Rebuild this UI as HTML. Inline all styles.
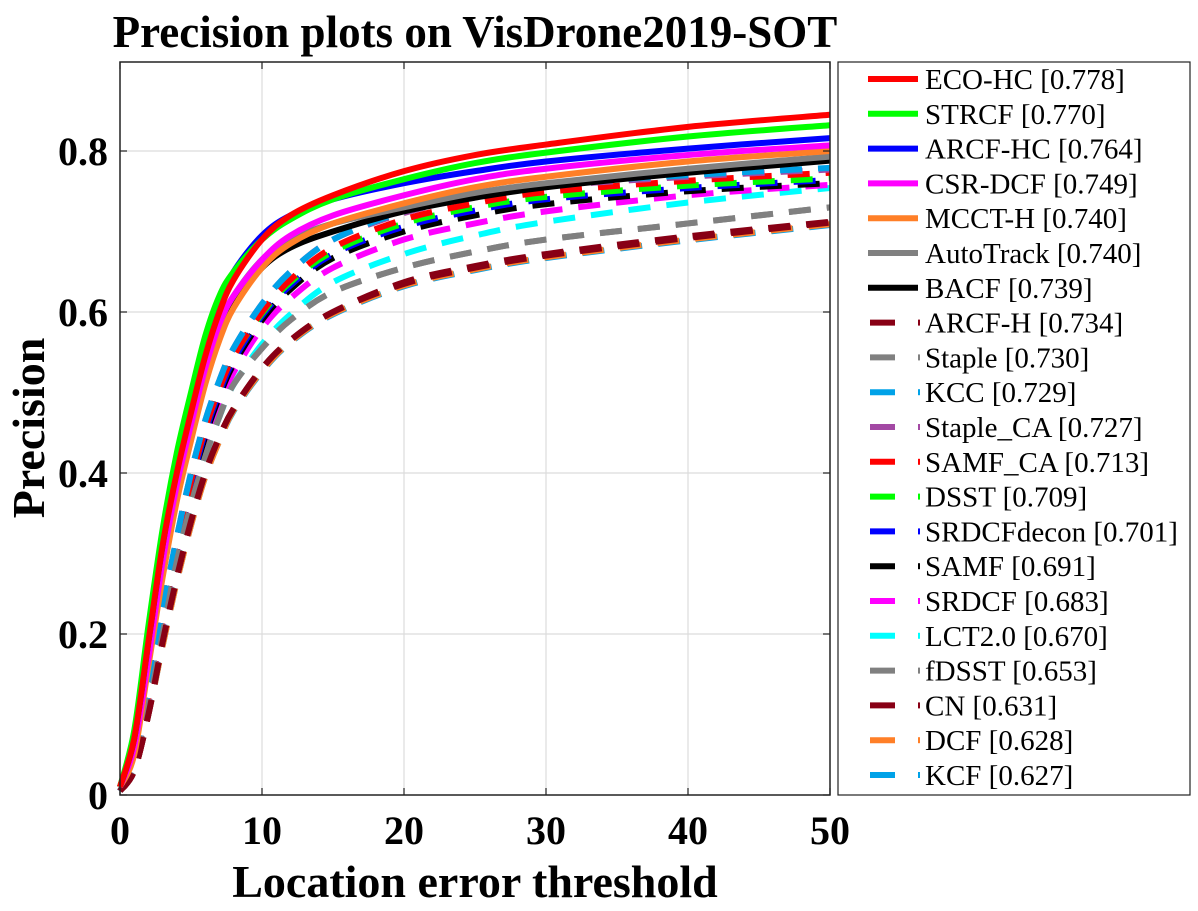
<!DOCTYPE html>
<html><head><meta charset="utf-8"><style>
body{margin:0;background:#fff;}
svg text{font-family:"Liberation Serif",serif;}
</style></head><body>
<svg id="chart" width="1198" height="906" xmlns="http://www.w3.org/2000/svg">
<rect width="1198" height="906" fill="#fff"/>
<text x="475" y="47" text-anchor="middle" font-size="45" font-weight="bold">Precision plots on VisDrone2019-SOT</text>
<g id="grid"></g>
<g id="series"></g>
<rect x="120" y="62" width="710" height="733" fill="none" stroke="#222" stroke-width="1.5"/>
<g id="ticks"></g>
<text x="475" y="897" text-anchor="middle" font-size="46" font-weight="bold">Location error threshold</text>
<text transform="translate(44,428) rotate(-90)" text-anchor="middle" font-size="46" font-weight="bold">Precision</text>
<rect x="838" y="62" width="352" height="733" fill="#fff" stroke="#222" stroke-width="1.2"/>
<g id="legend"></g>
</svg>
<script>
const thresholds=[0,1,2,3,4,5,6,7,8,10,12,15,20,25,30,40,50];
const xTicks=[0,10,20,30,40,50];
const yTicks=[0,0.2,0.4,0.6,0.8];
const yTickLabels=["0","0.2","0.4","0.6","0.8"];
const names=["ECO-HC [0.778]","STRCF [0.770]","ARCF-HC [0.764]","CSR-DCF [0.749]","MCCT-H [0.740]","AutoTrack [0.740]","BACF [0.739]","ARCF-H [0.734]","Staple [0.730]","KCC [0.729]","Staple_CA [0.727]","SAMF_CA [0.713]","DSST [0.709]","SRDCFdecon [0.701]","SAMF [0.691]","SRDCF [0.683]","LCT2.0 [0.670]","fDSST [0.653]","CN [0.631]","DCF [0.628]","KCF [0.627]"];
const colors=["#ff0000","#00ff00","#0000ff","#ff00ff","#ff7f27","#808080","#000000","#880015","#808080","#00a2e8","#a349a4","#ff0000","#00ff00","#0000ff","#000000","#ff00ff","#00ffff","#808080","#880015","#ff7f27","#00a2e8"];
const dashed=[false,false,false,false,false,false,false,true,true,true,true,true,true,true,true,true,true,true,true,true,true];
const s0=[0.01,0.07,0.19,0.31,0.40,0.475,0.545,0.60,0.64,0.69,0.72,0.745,0.775,0.795,0.808,0.83,0.845];
const s1=[0.01,0.08,0.21,0.33,0.425,0.50,0.57,0.62,0.65,0.69,0.715,0.74,0.765,0.785,0.798,0.818,0.832];
const s2=[0.01,0.07,0.19,0.31,0.405,0.48,0.55,0.61,0.65,0.695,0.72,0.74,0.76,0.775,0.787,0.803,0.816];
const s3=[0.01,0.06,0.17,0.29,0.385,0.46,0.53,0.585,0.62,0.665,0.695,0.72,0.745,0.765,0.778,0.795,0.807];
const s4=[0.01,0.05,0.16,0.27,0.365,0.44,0.51,0.565,0.605,0.655,0.685,0.71,0.735,0.755,0.768,0.787,0.80];
const s5=[0.01,0.06,0.17,0.29,0.385,0.46,0.53,0.585,0.62,0.665,0.69,0.71,0.73,0.748,0.76,0.778,0.793];
const s6=[0.01,0.06,0.17,0.29,0.385,0.46,0.525,0.575,0.61,0.655,0.68,0.70,0.725,0.742,0.755,0.773,0.788];
const s7=[0.005,0.03,0.10,0.19,0.27,0.34,0.40,0.445,0.48,0.53,0.565,0.60,0.637,0.657,0.672,0.694,0.712];
const s8=[0.005,0.035,0.11,0.20,0.29,0.36,0.42,0.47,0.51,0.555,0.59,0.625,0.655,0.675,0.69,0.71,0.73];
const s9=[0.005,0.04,0.13,0.23,0.32,0.40,0.465,0.515,0.555,0.61,0.65,0.69,0.725,0.745,0.758,0.77,0.779];
const s10=[0.005,0.04,0.13,0.23,0.32,0.40,0.465,0.515,0.555,0.61,0.65,0.69,0.723,0.743,0.756,0.768,0.777];
const s11=[0.005,0.04,0.12,0.22,0.31,0.39,0.455,0.505,0.545,0.60,0.64,0.68,0.715,0.735,0.749,0.763,0.773];
const s12=[0.005,0.04,0.12,0.22,0.31,0.39,0.455,0.505,0.545,0.598,0.637,0.675,0.71,0.73,0.743,0.757,0.766];
const s13=[0.005,0.04,0.12,0.22,0.31,0.385,0.45,0.50,0.54,0.595,0.633,0.672,0.706,0.726,0.74,0.754,0.764];
const s14=[0.005,0.04,0.12,0.215,0.305,0.38,0.445,0.495,0.535,0.59,0.628,0.667,0.70,0.72,0.734,0.75,0.76];
const s15=[0.005,0.04,0.115,0.21,0.30,0.375,0.435,0.485,0.525,0.58,0.617,0.655,0.69,0.71,0.725,0.745,0.758];
const s16=[0.005,0.035,0.11,0.20,0.29,0.36,0.42,0.47,0.51,0.56,0.597,0.637,0.672,0.695,0.712,0.736,0.754];
const s17=[0.005,0.035,0.11,0.20,0.29,0.36,0.42,0.47,0.51,0.555,0.59,0.625,0.655,0.675,0.69,0.71,0.73];
const s18=[0.005,0.03,0.10,0.19,0.27,0.34,0.40,0.445,0.48,0.53,0.565,0.60,0.635,0.655,0.67,0.692,0.711];
const s19=[0.005,0.03,0.10,0.185,0.265,0.335,0.395,0.44,0.478,0.527,0.563,0.598,0.633,0.653,0.668,0.69,0.709];
const s20=[0.005,0.03,0.10,0.185,0.265,0.335,0.395,0.44,0.477,0.526,0.562,0.597,0.632,0.652,0.667,0.689,0.708];
const seriesValues=[s0,s1,s2,s3,s4,s5,s6,s7,s8,s9,s10,s11,s12,s13,s14,s15,s16,s17,s18,s19,s20];

const NS="http://www.w3.org/2000/svg";
const X0=120,X1=830,YB=795,YT=62,YMAX=(795-62)/805;
function xs(v){return X0+(v/50)*(X1-X0);}
function ys(v){return YB-(v/YMAX)*(YB-YT);}
function mk(tag,attrs,parent){const e=document.createElementNS(NS,tag);for(const k in attrs)e.setAttribute(k,attrs[k]);parent.appendChild(e);return e;}
const grid=document.getElementById('grid'),ticks=document.getElementById('ticks');
xTicks.forEach((t,i)=>{
  if(t>0&&t<50){const g=mk('line',{x1:xs(t),x2:xs(t),y1:YT,y2:YB,stroke:'#dcdcdc','stroke-width':1.2},grid);
  
  }
  const tl=mk('line',{x1:xs(t),x2:xs(t),y1:YB,y2:YB-7,stroke:'#222','stroke-width':1.2},ticks);
  
  
  const tt=mk('line',{x1:xs(t),x2:xs(t),y1:YT,y2:YT+7,stroke:'#222','stroke-width':1.2},ticks);
  
  
  const tx=mk('text',{x:xs(t),y:844,'text-anchor':'middle','font-size':40,'font-weight':'bold'},ticks);
  tx.textContent=String(t);
  
  
});
yTicks.forEach((t,i)=>{
  if(t>0){const g=mk('line',{x1:X0,x2:X1,y1:ys(t),y2:ys(t),stroke:'#dcdcdc','stroke-width':1.2},grid);
  
  }
  const tl=mk('line',{x1:X0,x2:X0+7,y1:ys(t),y2:ys(t),stroke:'#222','stroke-width':1.2},ticks);
  
  
  const tr=mk('line',{x1:X1,x2:X1-7,y1:ys(t),y2:ys(t),stroke:'#222','stroke-width':1.2},ticks);
  
  
  const tx=mk('text',{x:108,y:ys(t)+14,'text-anchor':'end','font-size':40,'font-weight':'bold'},ticks);
  tx.textContent=yTickLabels[i];
  
  
});
function pathFor(vals){
  const p=thresholds.map((t,i)=>[xs(t),ys(vals[i])]);
  let d='M'+p[0][0]+','+p[0][1];
  for(let i=0;i<p.length-1;i++){
    const a=p[Math.max(0,i-1)],b=p[i],c=p[i+1],e=p[Math.min(p.length-1,i+2)];
    const c1=[b[0]+(c[0]-a[0])/6,b[1]+(c[1]-a[1])/6],c2=[c[0]-(e[0]-b[0])/6,c[1]-(e[1]-b[1])/6];
    d+=' C'+c1[0].toFixed(2)+','+c1[1].toFixed(2)+' '+c2[0].toFixed(2)+','+c2[1].toFixed(2)+' '+c[0].toFixed(2)+','+c[1].toFixed(2);
  }
  return d;
}
const sg=document.getElementById('series');
for(let k=seriesValues.length-1;k>=0;k--){
  const a={d:pathFor(seriesValues[k]),fill:'none',stroke:colors[k],'stroke-width':6,'stroke-linejoin':'round'};
  if(dashed[k])a['stroke-dasharray']='22 16';
  const el=mk('path',a,sg);
  
  
}
const lg=document.getElementById('legend');
names.forEach((n,k)=>{
  const y=79+k*34.8;
  const ln=mk('line',{x1:dashed[k]?870:868,x2:dashed[k]?895:918,y1:y,y2:y,stroke:colors[k],'stroke-width':6},lg);
  
  
  if(dashed[k]){const l2=mk('line',{x1:918,x2:920,y1:y,y2:y,stroke:colors[k],'stroke-width':6},lg);
    
    }
  const tx=mk('text',{x:925,y:y+10,'font-size':29},lg);
  tx.textContent=n;
  
  
});
</script>
</body></html>
